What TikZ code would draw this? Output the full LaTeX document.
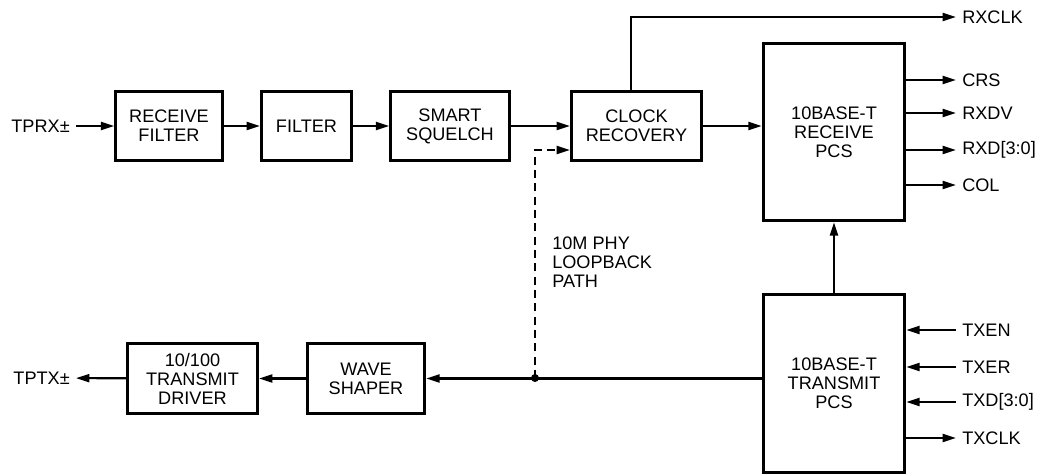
\documentclass[tikz,border=0pt]{standalone}
\usepackage{fontspec}
\setmainfont{Liberation Sans}
\usetikzlibrary{arrows.meta, positioning, calc}

\begin{document}
\begin{tikzpicture}[x=0.75pt, y=-0.75pt, font=\fontsize{13.6}{14.2}\selectfont,
    >={Triangle[length=10pt,width=6pt]},
    blk/.style={draw, line width=2.3pt, align=center, inner sep=0pt, minimum height=52pt},
    sig/.style={inner sep=4.5pt},
    wire/.style={line width=1.6pt}]
  \useasboundingbox (0,0) rectangle (1039,474);
  % receive path
  \node[blk, minimum width=80pt] (rfilt) at (169,126) {RECEIVE\\FILTER};
  \node[blk, minimum width=67.5pt] (filt) at (306.5,126) {FILTER};
  \node[blk, minimum width=89pt] (squelch) at (450,126) {SMART\\SQUELCH};
  \node[blk, minimum width=97.5pt] (clkrec) at (636.5,126) {CLOCK\\RECOVERY};
  \node[blk, minimum width=106pt, minimum height=133pt] (rxpcs) at (834,132) {10BASE-T\\RECEIVE\\PCS};
  % transmit path
  \node[blk, minimum width=106pt, minimum height=133pt] (txpcs) at (834,383.5) {10BASE-T\\TRANSMIT\\PCS};
  \node[blk, minimum width=88pt] (shaper) at (366,378.5) {WAVE\\SHAPER};
  \node[blk, minimum width=97.5pt] (driver) at (192.5,378.5) {10/100\\TRANSMIT\\DRIVER};
  % pins
  \node[sig, anchor=east] (tprx) at (76,126) {TPRX±};
  \node[sig, anchor=east] (tptx) at (76,378) {TPTX±};
  \node[sig, anchor=west] (rxclk) at (956,17) {RXCLK};
  \node[sig, anchor=west] (crs) at (956,80) {CRS};
  \node[sig, anchor=west] (rxdv) at (956,113) {RXDV};
  \node[sig, anchor=west] (rxd) at (956,150) {RXD[3:0]};
  \node[sig, anchor=west] (col) at (956,185) {COL};
  \node[sig, anchor=west] (txen) at (956,330) {TXEN};
  \node[sig, anchor=west] (txer) at (956,367) {TXER};
  \node[sig, anchor=west] (txd) at (956,402) {TXD[3:0]};
  \node[sig, anchor=west] (txclk) at (956,438) {TXCLK};
  \node[anchor=west, align=left, inner sep=0pt] (lbklabel) at (552,262) {10M PHY\\LOOPBACK\\PATH};
  \coordinate (tap) at (535,378);
  \coordinate (lbk) at (535,150);
  % receive wires
  \draw[wire, ->] (tprx) -- (rfilt);
  \draw[wire, ->] (rfilt) -- (filt);
  \draw[wire, ->] (filt) -- (squelch);
  \draw[wire, ->] (squelch) -- (clkrec);
  \draw[wire, ->] (clkrec) -- (clkrec -| rxpcs.west);
  \draw[wire, ->] ([xshift=-4pt]clkrec.north) |- (rxclk);
  \foreach \s in {crs, rxdv, rxd, col}
    \draw[wire, ->] (rxpcs.east |- \s) -- (\s);
  % transmit wires
  \foreach \s in {txen, txer, txd}
    \draw[wire, ->] (\s) -- (txpcs.east |- \s);
  \draw[wire, ->] (txpcs.east |- txclk) -- (txclk);
  \draw[wire, ->] (txpcs.north) -- (rxpcs.south);
  \draw[wire, ->] (txpcs.west |- shaper) -- (shaper);
  \draw[wire, ->] (shaper) -- (driver);
  \draw[wire, ->] (driver) -- (tptx);
  % loopback
  \fill (tap) circle (3pt);
  \draw[wire, ->, dash pattern=on 6pt off 4pt] (tap) -- (lbk) -- (lbk -| clkrec.west);
\end{tikzpicture}
\end{document}
